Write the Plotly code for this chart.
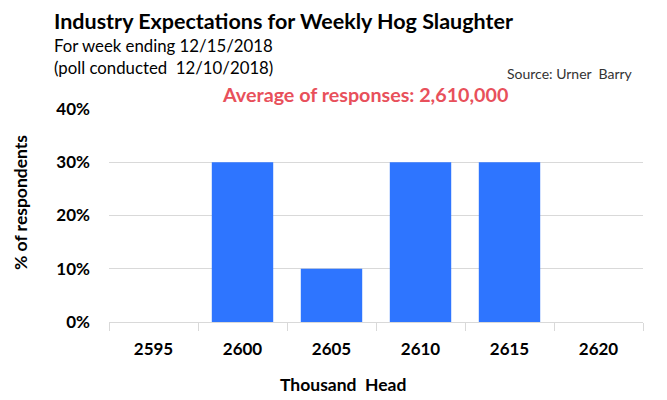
import plotly.graph_objects as go

# Data
categories = ['2595', '2600', '2605', '2610', '2615', '2620']
share = [0.0, 0.30, 0.10, 0.30, 0.30, 0.0]
y_ticks = [0, 0.1, 0.2, 0.3, 0.4]

FONT = 'Lato'

fig = go.Figure()
fig.add_trace(go.Bar(
    x=categories,
    y=share,
    marker=dict(color='#2E75FF', line=dict(width=0)),
    showlegend=False,
))

# plot area in pixels: x 109..643, y 109..322
def px(x):
    return (x - 109) / 534

def py(y):
    return (322 - y) / 213

annotations = [
    dict(text='<b>Industry Expectations for Weekly Hog Slaughter</b>', x=px(52), y=py(21),
         xanchor='left', yanchor='middle', font=dict(size=21.5, color='#000000')),
    dict(text='For week ending 12/15/2018', x=px(52), y=py(46),
         xanchor='left', yanchor='middle', font=dict(size=16.8, color='#000000')),
    dict(text='(poll conducted  12/10/2018)', x=px(52), y=py(67),
         xanchor='left', yanchor='middle', font=dict(size=16.8, color='#000000')),
    dict(text='Source: Urner  Barry', x=px(635), y=py(73),
         xanchor='right', yanchor='middle', font=dict(size=14, color='#333333')),
    dict(text='<b>Average of responses: 2,610,000</b>', x=px(365), y=py(95),
         xanchor='center', yanchor='middle', font=dict(size=19.7, color='#E8505B')),
    dict(text='<b>% of respondents</b>', x=px(20), y=py(203), textangle=-90,
         xanchor='center', yanchor='middle', font=dict(size=17.5, color='#000000')),
    dict(text='<b>Thousand  Head</b>', x=px(343), y=py(384),
         xanchor='center', yanchor='middle', font=dict(size=17.5, color='#000000')),
]
for a in annotations:
    a.update(xref='paper', yref='paper', showarrow=False)

fig.update_layout(
    width=667,
    height=400,
    margin=dict(l=109, r=24, t=109, b=78),
    plot_bgcolor='white',
    paper_bgcolor='white',
    font=dict(family=FONT, color='#000000'),
    bargap=0.31,
    annotations=annotations,
    xaxis=dict(
        type='category',
        showgrid=False,
        showline=True,
        linecolor='#d9d9d9',
        linewidth=1,
        ticks='outside',
        tickson='boundaries',
        ticklen=8,
        tickcolor='#d9d9d9',
        tickfont=dict(size=17, weight='bold', color='#000000'),
        ticklabelstandoff=12,
    ),
    yaxis=dict(
        range=[0, 0.4],
        tickvals=y_ticks,
        tickformat='.0%',
        showgrid=True,
        gridcolor='#d9d9d9',
        gridwidth=1,
        zeroline=False,
        showline=False,
        ticks='',
        tickfont=dict(size=17, weight='bold', color='#000000'),
        ticklabelstandoff=18,
    ),
)

# drop the page's default body margin so the figure sits at the window corner
fig.write_html('out.html', config={'displayModeBar': False},
               post_script="document.body.style.margin='0';")
